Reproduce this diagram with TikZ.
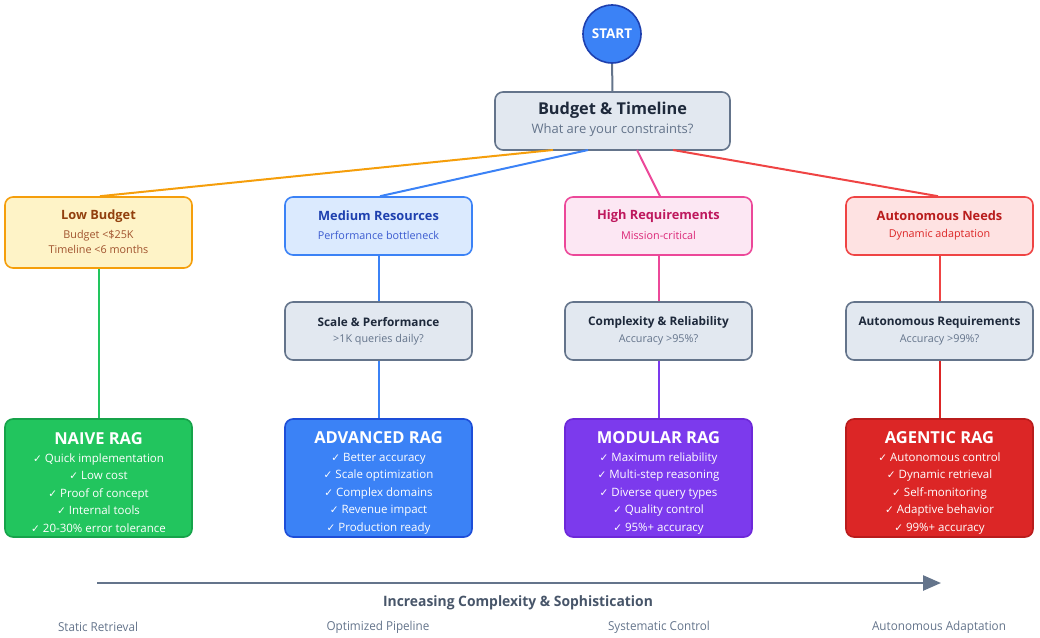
\documentclass[tikz,border=0pt]{standalone}
\usepackage{fontspec}
\setmainfont{Open Sans}
\newfontfamily\dejavu{DejaVu Sans}
\usetikzlibrary{arrows.meta}
\definecolor{slateb}{HTML}{64748B}
\definecolor{slatef}{HTML}{E2E8F0}
\definecolor{slatet}{HTML}{1E293B}
\definecolor{slates}{HTML}{64748B}
\definecolor{orB}{HTML}{F59E0B}\definecolor{orF}{HTML}{FEF3C7}\definecolor{orT}{HTML}{92400E}\definecolor{orS}{HTML}{A0522D}
\definecolor{blB}{HTML}{3B82F6}\definecolor{blF}{HTML}{DBEAFE}\definecolor{blT}{HTML}{1E40AF}\definecolor{blS}{HTML}{3B5BD0}
\definecolor{piB}{HTML}{EC4899}\definecolor{piF}{HTML}{FCE7F3}\definecolor{piT}{HTML}{BE185D}\definecolor{piS}{HTML}{DB2777}
\definecolor{reB}{HTML}{EF4444}\definecolor{reF}{HTML}{FEE2E2}\definecolor{reT}{HTML}{B91C1C}\definecolor{reS}{HTML}{DC2626}
\definecolor{gnF}{HTML}{22C55E}\definecolor{gnB}{HTML}{16A34A}
\definecolor{adF}{HTML}{3B82F6}\definecolor{adB}{HTML}{1D4ED8}
\definecolor{moF}{HTML}{7C3AED}\definecolor{moB}{HTML}{6D28D9}
\definecolor{agF}{HTML}{DC2626}\definecolor{agB}{HTML}{B91C1C}
\definecolor{startB}{HTML}{1E40AF}
\definecolor{axisT}{HTML}{475569}
\newcommand{\ck}{{\dejavu\fontsize{10.5}{10}\selectfont ✓}}
\tikzset{
  box/.style={draw, rounded corners=8pt, line width=1.6pt, minimum width=187pt, align=center, inner sep=0pt},
  ttl/.style={font=\fontsize{12.8}{14}\selectfont\bfseries},
  sub/.style={font=\fontsize{10.8}{15}\selectfont, align=center},
  rag/.style={box, minimum height=118pt},
  ragtxt/.style={text=white, align=center, inner sep=0pt, font=\fontsize{11.5}{17.5}\selectfont},
  conn/.style={line width=2pt},
  lbl/.style={font=\fontsize{12.3}{12}\selectfont, text=slateb, xscale=0.95},
}
\begin{document}
\begin{tikzpicture}[x=1pt,y=-1pt]
\useasboundingbox (0,0) rectangle (1040,637);
% start
\node[circle, draw=startB, fill=blB, line width=1.6pt, minimum size=58pt, inner sep=0pt, text=white, font=\fontsize{13.5}{13}\selectfont\bfseries] (start) at (612,34) {START};
% budget
\node[box, draw=slateb, fill=slatef, minimum width=235pt, minimum height=58pt] (budget) at (612.5,121) {};
\node[font=\fontsize{16.3}{16}\selectfont\bfseries, text=slatet] (budgett) at (612.5,110) {Budget \& Timeline};
\node[font=\fontsize{13}{13}\selectfont, text=slates] (budgets) at (612.5,130) {What are your constraints?};
\draw[conn, draw=slateb] (start) -- (budget);
% row 1
\node[box, draw=orB, fill=orF, minimum height=71pt] (low) at (98.5,232.5) {};
\node[ttl, text=orT] (lowt) at (98.5,216) {Low Budget};
\node[sub, text=orS] (lows) at (98.5,241.5) {Budget <\$25K\\Timeline <6 months};

\node[box, draw=blB, fill=blF, minimum height=58pt] (med) at (378.5,226) {};
\node[ttl, text=blT] (medt) at (378.5,216) {Medium Resources};
\node[sub, text=blS] (meds) at (378.5,235) {Performance bottleneck};

\node[box, draw=piB, fill=piF, minimum height=58pt] (high) at (658.5,226) {};
\node[ttl, text=piT] (hight) at (658.5,216) {High Requirements};
\node[sub, text=piS] (highs) at (658.5,235) {Mission-critical};

\node[box, draw=reB, fill=reF, minimum height=58pt] (aut) at (939.5,226) {};
\node[ttl, text=reT] (autt) at (939.5,216) {Autonomous Needs};
\node[sub, text=reS] (auts) at (939.5,235) {Dynamic adaptation};

% branch lines
\coordinate (b1) at (553,150); \coordinate (b2) at (588,150);
\coordinate (b3) at (637,150); \coordinate (b4) at (673,150);
\draw[conn, draw=orB] (b1) -- (low.north -| 100,0);
\draw[conn, draw=blB] (b2) -- (med.north -| 380,0);
\draw[conn, draw=piB] (b3) -- (high.north -| 660,0);
\draw[conn, draw=reB] (b4) -- (aut.north -| 938,0);

% row 2
\node[box, draw=slateb, fill=slatef, minimum height=58pt] (scale) at (378.5,331) {};
\node[ttl, text=slatet, font=\fontsize{11.8}{14}\selectfont\bfseries] (scalet) at (378.5,322) {Scale \& Performance};
\node[sub, text=slates] (scales) at (378.5,340) {>1K queries daily?};

\node[box, draw=slateb, fill=slatef, minimum height=58pt] (cplx) at (658.5,331) {};
\node[ttl, text=slatet, font=\fontsize{11.8}{14}\selectfont\bfseries] (cplxt) at (658.5,322) {Complexity \& Reliability};
\node[sub, text=slates] (cplxs) at (658.5,340) {Accuracy >95\%?};

\node[box, draw=slateb, fill=slatef, minimum height=58pt] (areq) at (939.5,331) {};
\node[ttl, text=slatet, font=\fontsize{11.8}{14}\selectfont\bfseries] (areqt) at (939.5,322) {Autonomous Requirements};
\node[sub, text=slates] (areqs) at (939.5,340) {Accuracy >99\%?};

% row 3
\node[rag, draw=gnB, fill=gnF] (naive) at (98.5,478) {};
\node[ragtxt] (naivet) at (98.5,482.5) {{\fontsize{16.5}{16}\selectfont\bfseries NAIVE RAG}\\[0.5pt]\ck{} Quick implementation\\\ck{} Low cost\\\ck{} Proof of concept\\\ck{} Internal tools\\\ck{} 20-30\% error tolerance};
\node[rag, draw=adB, fill=adF] (adv) at (378.5,478) {};
\node[ragtxt] (advt) at (378.5,482.5) {{\fontsize{16.5}{16}\selectfont\bfseries ADVANCED RAG}\\[0.5pt]\ck{} Better accuracy\\\ck{} Scale optimization\\\ck{} Complex domains\\\ck{} Revenue impact\\\ck{} Production ready};
\node[rag, draw=moB, fill=moF] (mod) at (658.5,478) {};
\node[ragtxt] (modt) at (658.5,482.5) {{\fontsize{16.5}{16}\selectfont\bfseries MODULAR RAG}\\[0.5pt]\ck{} Maximum reliability\\\ck{} Multi-step reasoning\\\ck{} Diverse query types\\\ck{} Quality control\\\ck{} 95\%+ accuracy};
\node[rag, draw=agB, fill=agF] (agt) at (939.5,478) {};
\node[ragtxt] (agtt) at (939.5,482.5) {{\fontsize{16.5}{16}\selectfont\bfseries AGENTIC RAG}\\[0.5pt]\ck{} Autonomous control\\\ck{} Dynamic retrieval\\\ck{} Self-monitoring\\\ck{} Adaptive behavior\\\ck{} 99\%+ accuracy};

% vertical connectors
\draw[conn, draw=gnF] (low) -- (naive);
\draw[conn, draw=blB] (med) -- (scale);
\draw[conn, draw=blB] (scale) -- (adv);
\draw[conn, draw=piB] (high) -- (cplx);
\draw[conn, draw=moF] (cplx) -- (mod);
\draw[conn, draw=reB] (aut) -- (areq);
\draw[conn, draw=agF] (areq) -- (agt);

% bottom arrow
\coordinate (a1) at (97,583); \coordinate (a2) at (941,583);
\draw[line width=2.5pt, draw=slateb, -{Triangle[length=18pt,width=15pt]}] (a1) -- (a2);
\node[font=\fontsize{14.3}{14}\selectfont\bfseries, text=axisT, xscale=0.97] (axis) at (518,603) {Increasing Complexity \& Sophistication};
\node[lbl] (l1) at (98,627) {Static Retrieval};
\node[lbl] (l2) at (378,627) {Optimized Pipeline};
\node[lbl] (l3) at (659,627) {Systematic Control};
\node[lbl] (l4) at (939,627) {Autonomous Adaptation};
\end{tikzpicture}
\end{document}
